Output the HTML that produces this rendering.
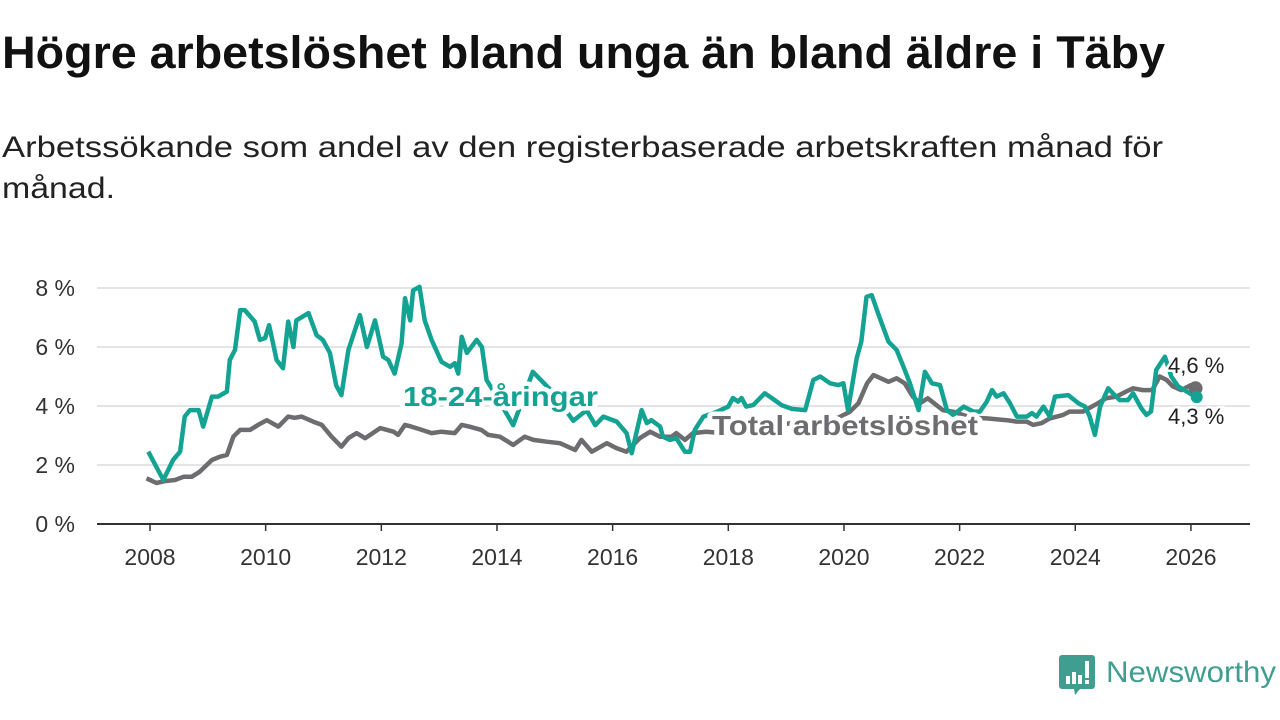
<!DOCTYPE html>
<html><head><meta charset="utf-8">
<style>
body{margin:0;width:1280px;height:720px;background:#fff;overflow:hidden;font-family:"Liberation Sans",sans-serif;position:relative}
svg{position:absolute;left:0;top:0}
</style></head>
<body>
<svg id="chart" width="1280" height="720">
<text x="2" y="68" font-size="45" font-weight="bold" fill="#111" textLength="1163" lengthAdjust="spacingAndGlyphs">Högre arbetslöshet bland unga än bland äldre i Täby</text>
<text x="2" y="157" font-size="30" fill="#222" textLength="1161" lengthAdjust="spacingAndGlyphs">Arbetssökande som andel av den registerbaserade arbetskraften månad för</text>
<text x="2" y="198" font-size="30" fill="#222" textLength="113" lengthAdjust="spacingAndGlyphs">månad.</text>
</svg>
<script>
const xTicks=[2008,2010,2012,2014,2016,2018,2020,2022,2024,2026];
const yTicks=[0,2,4,6,8];
const yTickLabels=["0 %","2 %","4 %","6 %","8 %"];
const youngDates=[2007.97,2008.23,2008.40,2008.52,2008.60,2008.69,2008.84,2008.92,2009.07,2009.18,2009.33,2009.38,2009.47,2009.56,2009.64,2009.81,2009.90,2009.99,2010.06,2010.19,2010.30,2010.39,2010.48,2010.53,2010.74,2010.88,2010.99,2011.11,2011.22,2011.31,2011.43,2011.63,2011.75,2011.89,2012.03,2012.12,2012.23,2012.35,2012.41,2012.50,2012.55,2012.66,2012.75,2012.87,2013.04,2013.19,2013.27,2013.33,2013.39,2013.48,2013.65,2013.74,2013.82,2014.0,2014.28,2014.62,2014.9,2015.1,2015.32,2015.55,2015.70,2015.84,2016.07,2016.24,2016.33,2016.50,2016.59,2016.67,2016.82,2016.87,2016.99,2017.10,2017.25,2017.34,2017.42,2017.57,2017.8,2018.0,2018.08,2018.17,2018.23,2018.31,2018.43,2018.63,2018.75,2018.92,2019.1,2019.33,2019.47,2019.59,2019.76,2019.90,2019.99,2020.07,2020.22,2020.30,2020.39,2020.48,2020.62,2020.77,2020.91,2021.03,2021.14,2021.29,2021.40,2021.52,2021.66,2021.78,2021.89,2022.07,2022.24,2022.35,2022.47,2022.56,2022.64,2022.76,2022.87,2022.99,2023.16,2023.25,2023.33,2023.45,2023.56,2023.65,2023.88,2024.05,2024.17,2024.25,2024.34,2024.43,2024.57,2024.65,2024.77,2024.91,2025.0,2025.14,2025.23,2025.31,2025.40,2025.55,2025.66,2025.78,2025.98,2026.07,2026.1];
const youngValues=[2.45,1.49,2.17,2.45,3.64,3.86,3.86,3.3,4.32,4.32,4.49,5.56,5.9,7.25,7.25,6.86,6.24,6.3,6.74,5.56,5.28,6.86,6.0,6.9,7.15,6.4,6.24,5.8,4.7,4.37,5.9,7.08,6.0,6.9,5.67,5.56,5.1,6.13,7.65,6.9,7.92,8.04,6.9,6.24,5.5,5.33,5.45,5.1,6.35,5.8,6.24,6.0,4.88,4.3,3.35,5.16,4.6,4.1,3.5,3.86,3.35,3.64,3.47,3.08,2.4,3.86,3.42,3.52,3.3,2.96,2.85,2.91,2.45,2.45,3.19,3.64,3.8,3.98,4.27,4.15,4.27,3.98,4.03,4.43,4.27,4.03,3.9,3.86,4.88,5.0,4.77,4.71,4.77,3.86,5.62,6.18,7.7,7.76,6.98,6.18,5.9,5.33,4.77,3.86,5.16,4.77,4.71,3.86,3.7,3.98,3.81,3.81,4.15,4.54,4.32,4.43,4.1,3.64,3.64,3.76,3.64,3.98,3.64,4.32,4.37,4.1,3.98,3.64,3.02,3.98,4.6,4.43,4.2,4.2,4.43,3.93,3.7,3.81,5.22,5.67,5.0,4.66,4.43,4.32,4.3];
const totalDates=[2007.94,2008.11,2008.25,2008.43,2008.58,2008.72,2008.86,2009.07,2009.21,2009.33,2009.44,2009.56,2009.73,2009.87,2010.02,2010.22,2010.39,2010.50,2010.62,2010.82,2010.97,2011.14,2011.31,2011.43,2011.57,2011.72,2011.98,2012.21,2012.29,2012.41,2012.52,2012.70,2012.87,2013.04,2013.27,2013.39,2013.52,2013.73,2013.85,2014.05,2014.28,2014.48,2014.63,2014.86,2015.09,2015.35,2015.46,2015.64,2015.90,2016.07,2016.24,2016.47,2016.65,2016.82,2017.02,2017.10,2017.25,2017.39,2017.62,2017.8,2018.2,2018.6,2019.0,2019.5,2019.9,2020.1,2020.25,2020.40,2020.51,2020.77,2020.91,2021.05,2021.19,2021.31,2021.45,2021.71,2021.9,2022.2,2022.47,2022.82,2022.99,2023.16,2023.27,2023.42,2023.56,2023.79,2023.90,2024.13,2024.39,2024.53,2024.71,2024.88,2025.0,2025.17,2025.33,2025.46,2025.58,2025.69,2025.83,2026.0,2026.08];
const totalValues=[1.55,1.39,1.45,1.49,1.6,1.6,1.77,2.17,2.28,2.34,2.96,3.19,3.19,3.36,3.52,3.3,3.64,3.6,3.64,3.47,3.36,2.96,2.62,2.91,3.08,2.91,3.25,3.13,3.02,3.36,3.3,3.19,3.08,3.13,3.08,3.36,3.3,3.19,3.02,2.96,2.68,2.96,2.85,2.79,2.74,2.51,2.85,2.45,2.74,2.57,2.45,2.91,3.13,2.96,2.96,3.08,2.85,3.08,3.13,3.1,3.2,3.3,3.4,3.5,3.6,3.8,4.09,4.77,5.05,4.82,4.94,4.77,4.32,4.09,4.26,3.86,3.8,3.6,3.58,3.52,3.47,3.47,3.36,3.42,3.58,3.7,3.81,3.81,4.09,4.26,4.32,4.49,4.6,4.54,4.54,5.0,4.88,4.66,4.54,4.71,4.6];

const NS="http://www.w3.org/2000/svg";
const svg=document.getElementById('chart');
const X=y=>150+(y-2008)*57.83;
const Y=v=>524-v*29.5;
function mk(t,a,p){const e=document.createElementNS(NS,t);for(const k in a)e.setAttribute(k,a[k]);(p||svg).appendChild(e);return e;}

yTicks.forEach((t,i)=>{
  const g=mk('line',{x1:97,x2:1250,y1:Y(t),y2:Y(t),stroke:t===0?'#333':'#dcdcdc','stroke-width':t===0?2:1.5});
  
  
  const l=mk('text',{x:75,y:Y(t)+8,'text-anchor':'end','font-size':23,fill:'#333'});
  l.textContent=yTickLabels[i];
  
  
});
xTicks.forEach(t=>{
  const tk=mk('line',{x1:X(t),x2:X(t),y1:524,y2:531,stroke:'#333','stroke-width':1.5});
  
  
  const l=mk('text',{x:X(t),y:565,'text-anchor':'middle','font-size':23,fill:'#333'});
  l.textContent=t;
  
  
});
function path(d,v){return d.map((x,i)=>(i?'L':'M')+X(x).toFixed(1)+','+Y(v[i]).toFixed(1)).join('');}
const tp=mk('path',{d:path(totalDates,totalValues),fill:'none',stroke:'#6d6d70','stroke-width':4.5,'stroke-linejoin':'round'});


const yp=mk('path',{d:path(youngDates,youngValues),fill:'none',stroke:'#14a393','stroke-width':4.5,'stroke-linejoin':'round'});



function lab(x,y,txt,col,name,target){
  const t=mk('text',{x:x,y:y,'font-size':28,'font-weight':'bold',fill:col,stroke:'#fff','stroke-width':9,'paint-order':'stroke','stroke-linejoin':'round',textLength:target,lengthAdjust:'spacingAndGlyphs'});
  t.textContent=txt;
  
  
}
lab(403,406,'18-24-åringar','#14a393','young-series-label',195);
lab(712,435,'Total arbetslöshet','#6d6d70','total-series-label',266);

const td=mk('circle',{cx:X(totalDates[totalDates.length-1]),cy:Y(totalValues[totalValues.length-1]),r:7,fill:'#6d6d70'});


const yd=mk('circle',{cx:X(youngDates[youngDates.length-1]),cy:Y(youngValues[youngValues.length-1]),r:6,fill:'#14a393'});


function endLab(y,txt,name){
  const t=mk('text',{x:1168,y:y,'font-size':22,fill:'#222',stroke:'#fff','stroke-width':5,'paint-order':'stroke'});
  t.textContent=txt;
  
  
}
endLab(373,'4,6 %','total-end-label');
endLab(424,'4,3 %','young-end-label');

const logo=mk('g',{});


mk('path',{d:'M1062,655 h30 a3,3 0 0 1 3,3 v28 a3,3 0 0 1 -3,3 h-12 l-5,6 l-1,-6 h-12 a3,3 0 0 1 -3,-3 v-28 a3,3 0 0 1 3,-3z',fill:'#3f9e90'},logo);
mk('rect',{x:1066,y:676,width:4,height:8,fill:'#fff'},logo);
mk('rect',{x:1072,y:672,width:4,height:12,fill:'#fff'},logo);
mk('rect',{x:1078,y:675,width:4,height:9,fill:'#fff'},logo);
mk('rect',{x:1085,y:661,width:4,height:17,fill:'#fff'},logo);
mk('rect',{x:1085,y:680,width:4,height:4,fill:'#fff'},logo);
const lt=mk('text',{x:1106,y:682,'font-size':30,fill:'#3f9e90',textLength:170,lengthAdjust:'spacingAndGlyphs'},logo);
lt.textContent='Newsworthy';
</script>
</body></html>
